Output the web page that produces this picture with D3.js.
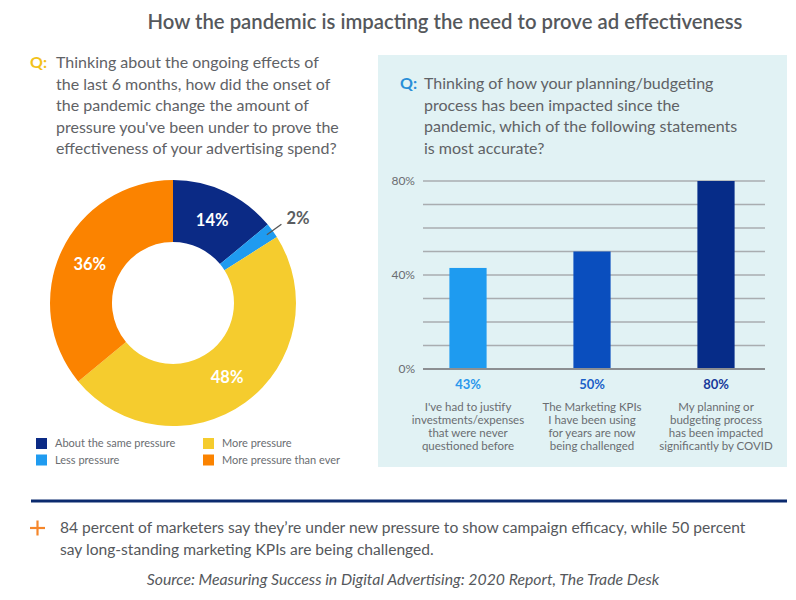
<!DOCTYPE html>
<html><head><meta charset="utf-8">
<script src="https://cdn.jsdelivr.net/npm/d3@7"></script>
<style>body{margin:0;background:#fff}svg{display:block;font-family:Lato,"Open Sans",sans-serif}</style>
</head><body>
<svg id="c" width="796" height="600"></svg>
<script>
const title = "How the pandemic is impacting the need to prove ad effectiveness";
const leftQuestion = ["Thinking about the ongoing effects of","the last 6 months, how did the onset of","the pandemic change the amount of","pressure you've been under to prove the","effectiveness of your advertising spend?"];
const donutCategories = ["About the same pressure","Less pressure","More pressure","More pressure than ever"];
const donutValues = [14, 2, 48, 36];
const donutColors = ["#0b2a85","#1f9bf0","#f5cc2e","#fb8300"];
const rightQuestion = ["Thinking of how your planning/budgeting","process has been impacted since the","pandemic, which of the following statements","is most accurate?"];
const barCategories = [
  ["I've had to justify","investments/expenses","that were never","questioned before"],
  ["The Marketing KPIs","I have been using","for years are now","being challenged"],
  ["My planning or","budgeting process","has been impacted","significantly by COVID"]
];
const barValues = [43, 50, 80];
const barColors = ["#1e9bf0","#0a4ebe","#062c88"];
const barLabelColors = ["#2a97ec","#1b5fc8","#17399a"];
const yTickValues = [0, 40, 80];
const gridValues = [0,10,20,30,40,50,60,70,80];
const footnote = ["84 percent of marketers say they\u2019re under new pressure to show campaign efficacy, while 50 percent","say long-standing marketing KPIs are being challenged."];
const source = "Source: Measuring Success in Digital Advertising: 2020 Report, The Trade Desk";

const svg = d3.select("#c");
const gray = "#5f6266";

// Title
svg.append("text").attr("x",445).attr("y",29).attr("text-anchor","middle")
  .attr("font-size",20.3).attr("font-weight",600).attr("fill","#55585c").text(title);

// Left question
svg.append("text").attr("x",30).attr("y",68).attr("font-size",16).attr("font-weight",700).attr("fill","#f2c21b").text("Q:");
svg.append("g").selectAll("text").data(leftQuestion).join("text")
  .attr("x",56).attr("y",(d,i)=>68+i*21.5).attr("font-size",16).attr("fill",gray).text(d=>d);

// Donut
const cx=173, cy=303, rOuter=123, rInner=61;
const pie = d3.pie().sort(null).value(d=>d)(donutValues);
const arc = d3.arc().innerRadius(rInner).outerRadius(rOuter);
const dg = svg.append("g").attr("transform",`translate(${cx},${cy})`);
dg.selectAll("path").data(pie).join("path").attr("d",arc).attr("fill",(d,i)=>donutColors[i]);
const labelArc = d3.arc().innerRadius(92).outerRadius(92);
dg.selectAll("text.in").data(pie.filter(d=>d.data>=5)).join("text").attr("class","in")
  .attr("transform",d=>`translate(${labelArc.centroid(d)})`).attr("text-anchor","middle").attr("dy","0.36em")
  .attr("font-size",16.5).attr("font-weight",700).attr("fill","#fff").text(d=>d.data+"%");
pie.filter(d=>d.data<5).forEach(d=>{
  const a=(d.startAngle+d.endAngle)/2;
  const p=r=>[Math.sin(a)*r,-Math.cos(a)*r];
  const p1=p(116), p2=p(134);
  dg.append("line").attr("x1",p1[0]).attr("y1",p1[1]).attr("x2",p2[0]).attr("y2",p2[1]).attr("stroke","#555").attr("stroke-width",1.3);
  dg.append("text").attr("x",p2[0]+5).attr("y",p2[1]-6).attr("dy","0.36em").attr("font-size",16.5).attr("font-weight",700).attr("fill","#5a5d61").text(d.data+"%");
});

// Legend
const leg = svg.append("g");
donutCategories.forEach((c,i)=>{
  const col=Math.floor(i/2), row=i%2;
  const x=36+col*167, y=438+row*16.5;
  leg.append("rect").attr("x",x).attr("y",y).attr("width",11).attr("height",11).attr("fill",donutColors[i]);
  leg.append("text").attr("x",x+19).attr("y",y+5.5).attr("dy","0.36em").attr("font-size",11).attr("fill","#6a6d71").text(c);
});

// Right panel
svg.append("rect").attr("x",378).attr("y",55).attr("width",409).attr("height",412).attr("fill","#e1f2f4");
svg.append("text").attr("x",400).attr("y",89).attr("font-size",16).attr("font-weight",700).attr("fill","#2a8fd8").text("Q:");
svg.append("g").selectAll("text").data(rightQuestion).join("text")
  .attr("x",424).attr("y",(d,i)=>89+i*21.5).attr("font-size",16).attr("fill",gray).text(d=>d);

const y = d3.scaleLinear().domain([0,80]).range([369,181]);
const x = d3.scaleBand().domain(d3.range(barValues.length)).range([406,778]).paddingInner(0.7).paddingOuter(0.35);
const bg = svg.append("g");
bg.selectAll("line.grid").data(gridValues.filter(v=>v>0)).join("line").attr("class","grid")
  .attr("x1",423).attr("x2",765).attr("y1",d=>y(d)).attr("y2",d=>y(d)).attr("stroke","#a9adb0").attr("stroke-width",1.4);
bg.selectAll("rect").data(barValues).join("rect")
  .attr("x",(d,i)=>x(i)).attr("width",x.bandwidth()).attr("y",d=>y(d)).attr("height",d=>y(0)-y(d)).attr("fill",(d,i)=>barColors[i]);
bg.append("line").attr("x1",423).attr("x2",765).attr("y1",y(0)).attr("y2",y(0)).attr("stroke","#8c8f92").attr("stroke-width",2.2);
const yAxis = d3.axisLeft(y).tickValues(yTickValues).tickFormat(d=>d+"%").tickSize(0).tickPadding(0);
const ya = svg.append("g").attr("transform","translate(415,0)").call(yAxis);
ya.select(".domain").remove();
ya.selectAll("text").attr("font-size",12).attr("fill","#6a6d71").attr("font-family","Lato,sans-serif");

svg.append("g").selectAll("text").data(barValues).join("text")
  .attr("x",(d,i)=>x(i)+x.bandwidth()/2).attr("y",384).attr("dy","0.36em").attr("text-anchor","middle")
  .attr("font-size",13).attr("font-weight",700).attr("fill",(d,i)=>barLabelColors[i]).text(d=>d+"%");
barCategories.forEach((lines,i)=>{
  svg.append("g").selectAll("text").data(lines).join("text")
    .attr("x",x(i)+x.bandwidth()/2).attr("y",(d,j)=>407+j*12.8).attr("dy","0.36em").attr("text-anchor","middle")
    .attr("font-size",11.5).attr("fill","#6a6d71").text(d=>d);
});

// Rule
svg.append("line").attr("x1",31).attr("x2",787).attr("y1",501).attr("y2",501).attr("stroke","#0b2a6e").attr("stroke-width",3);
// plus
svg.append("line").attr("x1",30).attr("x2",45).attr("y1",528).attr("y2",528).attr("stroke","#f5862a").attr("stroke-width",2.2);
svg.append("line").attr("x1",37.5).attr("x2",37.5).attr("y1",520.5).attr("y2",535.5).attr("stroke","#f5862a").attr("stroke-width",2.2);
svg.append("g").selectAll("text").data(footnote).join("text")
  .attr("x",60).attr("y",(d,i)=>533+i*22).attr("font-size",15.6).attr("fill","#55585c").text(d=>d);
svg.append("text").attr("x",403).attr("y",585).attr("text-anchor","middle").attr("font-size",15.8)
  .attr("font-style","italic").attr("fill","#55585c").text(source);
</script>
</body></html>
